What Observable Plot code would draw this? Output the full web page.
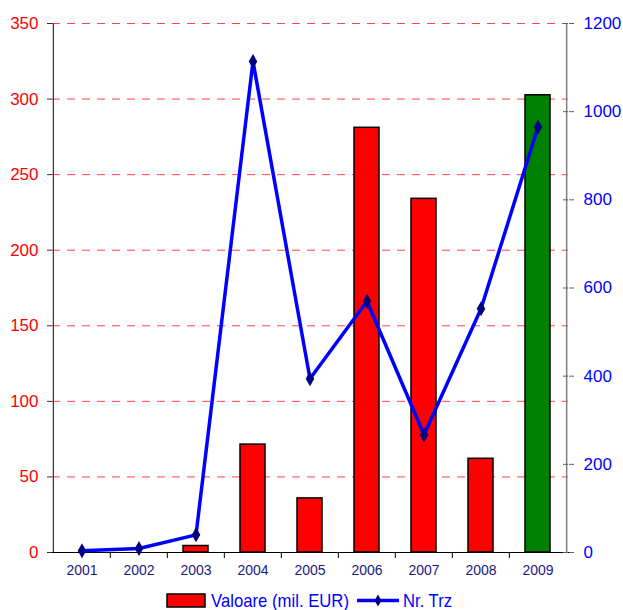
<!DOCTYPE html>
<html>
<head>
<meta charset="utf-8">
<script src="https://cdn.jsdelivr.net/npm/d3@7"></script>
<script src="https://cdn.jsdelivr.net/npm/@observablehq/plot@0.6"></script>
<style>
  body { margin: 0; background: #fff; }
  svg { display: block; font-family: "Liberation Sans", Arial, sans-serif; }
</style>
</head>
<body>
<div id="chart"></div>
<div id="legend"></div>
<script>
// ---- data ----
const years = ["2001", "2002", "2003", "2004", "2005", "2006", "2007", "2008", "2009"];
const valoare = [0, 0, 4.3, 71.4, 35.8, 281, 234, 62, 302.5];   // mil. EUR (left axis)
const nrTrz = [4, 9, 40, 1114, 394, 570, 267, 553, 965];        // number of transactions (right axis)
const leftTicks = [0, 50, 100, 150, 200, 250, 300, 350];
const rightTicks = [0, 200, 400, 600, 800, 1000, 1200];
const highlightYear = "2009";
const seriesNames = ["Valoare (mil. EUR)", "Nr. Trz"];

const data = years.map((year, i) => ({year, valoare: valoare[i], nr: nrTrz[i]}));

// ---- layout ----
const W = 623, H = 585, ml = 52, mr = 55, mt = 23, mb = 33;
const leftMax = 350, rightMax = 1200;
const k = leftMax / rightMax;
const step = (W - ml - mr) / years.length;

const chart = Plot.plot({
  width: W, height: H,
  marginLeft: ml, marginRight: mr, marginTop: mt, marginBottom: mb,
  x: {type: "band", domain: years, paddingInner: 0.56, paddingOuter: 0.28, axis: null},
  y: {domain: [0, leftMax], axis: null},
  marks: [
    Plot.ruleY(leftTicks.slice(1), {stroke: "#ff4545", strokeDasharray: "8,7", strokeWidth: 1}),
    Plot.barY(data, {x: "year", y: "valoare", fill: d => d.year === highlightYear ? "#008000" : "#ff0000", stroke: "#000", strokeWidth: 1.5}),
    // axis lines
    Plot.ruleX([years[0]], {dx: -step / 2, y1: 0, y2: leftMax, stroke: "#303030", strokeWidth: 1.2}),
    Plot.ruleX([years[years.length - 1]], {dx: step / 2, y1: 0, y2: leftMax, stroke: "#808080", strokeWidth: 1.5}),
    Plot.ruleY([0], {stroke: "#000", strokeWidth: 1.2, insetLeft: -5, insetRight: -5}),
    // category boundary ticks
    Plot.ruleX(years.slice(1), {dx: -step / 2, y1: 0, y2: -4, stroke: "#000"}),
    // right axis inward tick stubs
    Plot.ruleY(rightTicks.map(v => v * k), {insetLeft: W - ml - mr - 5, stroke: "#606060"}),
    // line series
    Plot.line(data, {x: "year", y: d => d.nr * k, stroke: "#0000ff", strokeWidth: 3.5}),
    Plot.dot(data, {x: "year", y: d => d.nr * k, symbol: "diamond", r: 3.6, fill: "#000080", stroke: "#000080"}),
    // left axis
    Plot.axisY({anchor: "left", ticks: leftTicks, tickSize: 5, tickPadding: 9, stroke: "#303030", fill: "#ff0000", fontSize: 17, label: null}),
    // right axis
    Plot.axisY({anchor: "right", ticks: rightTicks.map(v => v * k), tickFormat: v => String(Math.round(v / k)), tickSize: 5, tickPadding: 10, stroke: "#606060", fill: "#0000ff", fontSize: 17, label: null}),
    // x axis labels
    Plot.axisX({tickSize: 0, tickPadding: 13, fill: "#1a1a80", fontSize: 14, label: null})
  ]
});
document.getElementById("chart").appendChild(chart);

// ---- legend ----
const lg = d3.select("#legend").append("svg").attr("width", W).attr("height", 25);
lg.append("rect").attr("x", 167).attr("y", 9).attr("width", 38).attr("height", 13)
  .attr("fill", "#ff0000").attr("stroke", "#000").attr("stroke-width", 1.5);
lg.append("text").attr("x", 211).attr("y", 22).attr("font-size", 19).attr("fill", "#0000ff")
  .attr("textLength", 138).attr("lengthAdjust", "spacingAndGlyphs").text(seriesNames[0]);
lg.append("line").attr("x1", 357).attr("x2", 399).attr("y1", 15.5).attr("y2", 15.5)
  .attr("stroke", "#0000ff").attr("stroke-width", 3.5);
lg.append("path").attr("d", d3.symbol(d3.symbolDiamond, 40)()).attr("transform", "translate(378,15.5)").attr("fill", "#000080");
lg.append("text").attr("x", 403).attr("y", 22).attr("font-size", 19).attr("fill", "#0000ff")
  .attr("textLength", 49).attr("lengthAdjust", "spacingAndGlyphs").text(seriesNames[1]);
</script>
</body>
</html>
